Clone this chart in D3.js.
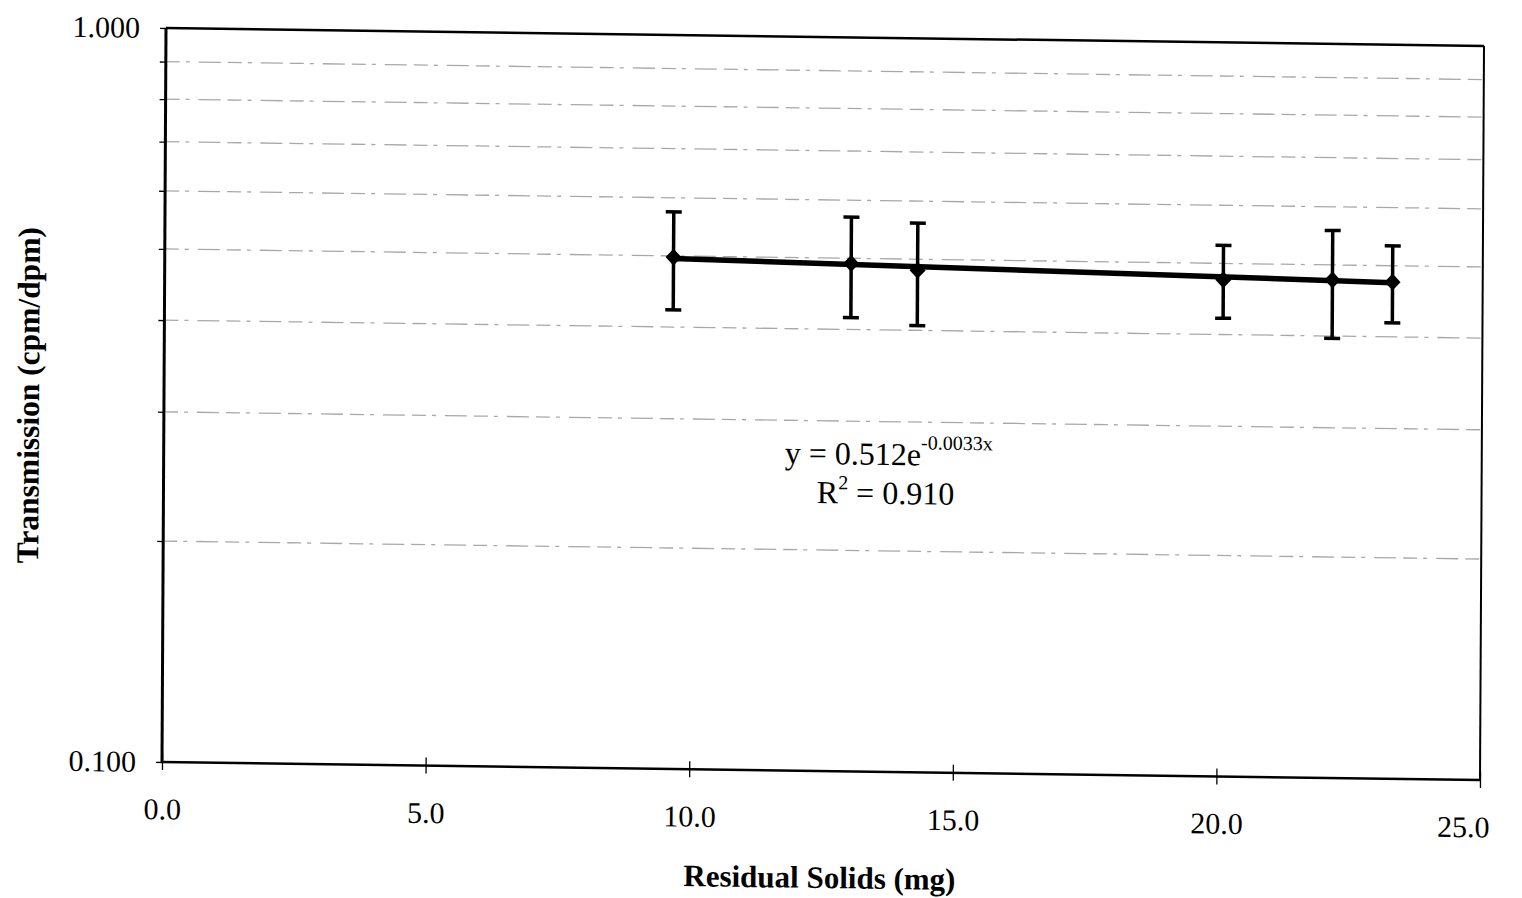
<!DOCTYPE html>
<html>
<head>
<meta charset="utf-8">
<script src="https://cdn.jsdelivr.net/npm/d3@7"></script>
<style>
  body { margin: 0; background: #fff; }
  text { font-family: "Liberation Serif", "Times New Roman", serif; fill: #000; }
</style>
</head>
<body>
<svg width="1522" height="898"></svg>
<script>
// Residual solids (mg) vs transmission (cpm/dpm)
const solids = [9.65, 13.02, 14.28, 20.08, 22.15, 23.29];
const transmission = [0.498, 0.492, 0.483, 0.475, 0.477, 0.475];
const errors = [0.076, 0.077, 0.077, 0.054, 0.080, 0.057];   // +/- on transmission

// exponential trendline shown on the chart: y = a * e^(b x)
const trendA = 0.512;
const trendB = -0.0033;

const xTicks = [0, 5, 10, 15, 20, 25];
const yTicks = [0.1, 0.2, 0.3, 0.4, 0.5, 0.6, 0.7, 0.8, 0.9, 1.0];
const yLabelled = [0.1, 1.0];
const gridValues = [0.2, 0.3, 0.4, 0.5, 0.6, 0.7, 0.8, 0.9];

const svg = d3.select("svg");
const W = 1318, H = 734;

svg.append("rect").attr("width", 1522).attr("height", 898).attr("fill", "#fff");

// the original is a slightly skewed scan, so the whole chart sits in a skewed group
const g = svg.append("g")
	.attr("transform", "matrix(1,0.01366,-0.00545,1,166,28)");

const x = d3.scaleLinear().domain([0, 25]).range([0, W]);
const y = d3.scaleLog().domain([0.1, 1]).range([H, 0]);

// gridlines
g.append("g")
	.selectAll("line")
	.data(gridValues)
	.join("line")
	.attr("x1", 0)
	.attr("x2", W)
	.attr("y1", d => y(d))
	.attr("y2", d => y(d))
	.attr("stroke", "#a8a8a8")
	.attr("stroke-width", 1.3)
	.attr("stroke-dasharray", "14,6,4,9,22,7");

// axes
const xAxis = d3.axisBottom(x)
	.tickValues(xTicks)
	.tickFormat(d3.format(".1f"))
	.tickSize(8)
	.tickSizeOuter(0)
	.tickPadding(28);

const xg = g.append("g")
	.attr("transform", `translate(0,${H})`)
	.call(xAxis);
xg.select(".domain").remove();
xg.selectAll(".tick line").attr("y1", -8).attr("y2", 8).attr("stroke", "#000").attr("stroke-width", 1.3);
xg.selectAll(".tick text").attr("font-size", 30).attr("font-family", "Liberation Serif");
xg.selectAll(".tick text").filter(d => d === 25).attr("dx", -17);

const yAxis = d3.axisLeft(y)
	.tickValues(yTicks)
	.tickFormat(d => yLabelled.some(v => Math.abs(v - d) < 1e-9) ? d3.format(".3f")(d) : "")
	.tickSize(6)
	.tickSizeOuter(0)
	.tickPadding(20);

const yg = g.append("g").call(yAxis);
yg.select(".domain").remove();
yg.selectAll(".tick line").attr("stroke", "#000").attr("stroke-width", 1.3);
yg.selectAll(".tick text").attr("font-size", 30).attr("font-family", "Liberation Serif");

// plot frame
g.append("line").attr("x1", 0).attr("x2", 0).attr("y1", 0).attr("y2", H)
	.attr("stroke", "#000").attr("stroke-width", 3);
g.append("line").attr("x1", 0).attr("x2", W).attr("y1", 0).attr("y2", 0)
	.attr("stroke", "#000").attr("stroke-width", 2.5);
g.append("line").attr("x1", W).attr("x2", W).attr("y1", 0).attr("y2", H)
	.attr("stroke", "#000").attr("stroke-width", 2);
g.append("line").attr("x1", 0).attr("x2", W).attr("y1", H).attr("y2", H)
	.attr("stroke", "#000").attr("stroke-width", 2.5);

const data = solids.map((s, i) => ({ x: s, y: transmission[i], e: errors[i] }));

// error bars
const eb = g.append("g").selectAll("g")
	.data(data)
	.join("g");

eb.append("line")
	.attr("x1", d => x(d.x)).attr("x2", d => x(d.x))
	.attr("y1", d => y(d.y + d.e)).attr("y2", d => y(d.y - d.e))
	.attr("stroke", "#000").attr("stroke-width", 3.5);

eb.selectAll(".cap")
	.data(d => [d.y + d.e, d.y - d.e].map(v => ({ x: d.x, v })))
	.join("line")
	.attr("class", "cap")
	.attr("x1", d => x(d.x) - 8).attr("x2", d => x(d.x) + 8)
	.attr("y1", d => y(d.v)).attr("y2", d => y(d.v))
	.attr("stroke", "#000").attr("stroke-width", 3.5);

// trendline over the data range (straight on a log axis)
const xEnds = [solids[0], solids[solids.length - 1]];
const line = d3.line().x(d => x(d)).y(d => y(trendA * Math.exp(trendB * d)));
g.append("path")
	.datum(xEnds)
	.attr("d", line)
	.attr("fill", "none")
	.attr("stroke", "#000")
	.attr("stroke-width", 5.5);

// diamond markers
g.append("g").selectAll("path")
	.data(data)
	.join("path")
	.attr("d", "M0,-8.5L8,0L0,8.5L-8,0Z")
	.attr("transform", d => `translate(${x(d.x)},${y(d.y)})`)
	.attr("fill", "#000");

// trendline equation
const eq = g.append("text")
	.attr("x", 725)
	.attr("y", 427)
	.attr("text-anchor", "middle")
	.attr("font-size", 32);
eq.append("tspan").text("y = 0.512e");
eq.append("tspan").attr("dy", -16).attr("font-size", 20).text("-0.0033x");

const r2 = g.append("text")
	.attr("x", 722)
	.attr("y", 466)
	.attr("text-anchor", "middle")
	.attr("font-size", 32);
r2.append("tspan").text("R");
r2.append("tspan").attr("dy", -14).attr("font-size", 20).text("2");
r2.append("tspan").attr("dy", 14).text(" = 0.910");

// axis titles
g.append("text")
	.attr("x", 658)
	.attr("y", 851)
	.attr("text-anchor", "middle")
	.attr("font-size", 31)
	.attr("font-weight", "bold")
	.text("Residual Solids (mg)");

g.append("text")
	.attr("transform", "translate(-125,369) rotate(-90)")
	.attr("text-anchor", "middle")
	.attr("font-size", 31.5)
	.attr("font-weight", "bold")
	.text("Transmission (cpm/dpm)");
</script>
</body>
</html>
